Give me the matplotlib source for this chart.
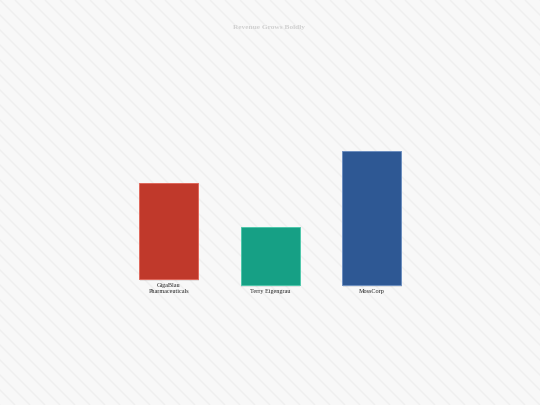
import numpy as np
import matplotlib
matplotlib.use("Agg")
import matplotlib.pyplot as plt
import matplotlib.patheffects as pe

title = "Revenue Grows Boldly"
companies = ["GigaBlau\nPharmaceuticals", "Terry Eigengrau", "MossCorp"]
revenue = [72, 43, 100]
colors = ["#c0392b", "#16a085", "#2e5894"]
edges = ["#e0675b", "#4fc7ab", "#6d8fc0"]

W, H = 540, 405
fig = plt.figure(figsize=(W / 100, H / 100), dpi=100)
fig.patch.set_facecolor("#f8f8f8")

# diagonal stripes in the background
bg = fig.add_axes([0, 0, 1, 1], zorder=0)
bg.set_xlim(0, W)
bg.set_ylim(H, 0)
bg.axis("off")
for x0 in np.arange(-H, W + 20, 15):
    bg.plot([x0, x0 + H], [0, H], color="#efefef", lw=1.0, solid_capstyle="butt")

fig.text(269 / W, 1 - 28 / H, title, ha="center", va="center",
         family="Liberation Serif", fontweight="bold", fontsize=5.3, color="#d0d0d0")

# axes: baseline at y=285px, 100 units = 134px
ax = fig.add_axes([117.75 / W, 120 / H, 305 / W, 134 / H], zorder=1)
ax.set_xlim(-0.5, 2.5)
ax.set_ylim(0, 100)
ax.axis("off")
ax.patch.set_alpha(0)

units_per_px = 100 / 134
for i, (name, val) in enumerate(zip(companies, revenue)):
    nlines = name.count("\n") + 1
    base = (nlines - 1) * 6 * units_per_px
    ax.bar(i, val, bottom=base, width=0.58, color=colors[i], edgecolor=edges[i],
           linewidth=0.7, clip_on=False,
           path_effects=[pe.SimplePatchShadow(offset=(0.5, -1.2), alpha=0.1), pe.Normal()])
    ax.annotate(name, (i, base), xytext=(0, -3.2), textcoords="offset points",
                ha="center", va="top", fontsize=4.4, family="Liberation Serif",
                color="#222222", linespacing=1.1, annotation_clip=False)

fig.savefig("out.png", dpi=100, facecolor=fig.get_facecolor())
